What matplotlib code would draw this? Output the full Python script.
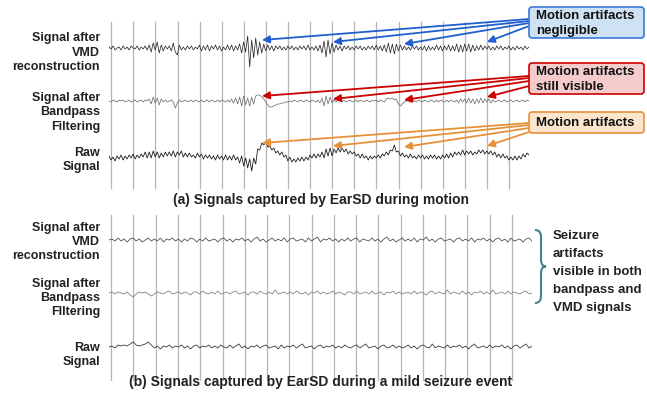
import matplotlib
matplotlib.use("Agg")  # no display
import matplotlib.pyplot as plt
import numpy as np
from matplotlib.patches import FancyBboxPatch, PathPatch
from matplotlib.path import Path

plt.rcParams['font.family'] = ['Liberation Sans', 'DejaVu Sans']

# ---- signal data (amplitude, arbitrary units) ----
# (a) motion recording, 210 samples per track
vmd_a = [
    1, -1, 2, -2, 0, 1, -2, 2, -1, 1,
    -2, 2, 0, -1, 2, -2, 1, -1, 2, -2,
    3, -4, 5, -2, 6, -5, 3, -3, 2, -1,
    2, -3, 5, -4, -7, 3, -2, 1, -2, 2,
    -1, 2, -2, 1, -1, 3, -3, 2, -2, 3,
    -3, 2, -1, 3, -2, 2, -3, 1, -2, 3,
    -2, 3, -3, 2, -2, 4, -5, 6, -4, 12,
    -19, 8, -10, 10, -7, 6, -5, 4, -3, 3,
    -2, 2, -3, 2, -1, 2, -2, 1, -2, 2,
    -1, 2, -2, 1, -2, 2, -1, 2, -2, 3,
    -2, 1, -2, 2, -3, 3, -5, 7, -9, 8,
    -6, 5, -4, 3, -2, 2, -3, 2, -1, 2,
    -2, 1, -2, 2, -1, 2, -2, 1, -2, 2,
    -1, 2, -2, 3, -2, 2, -3, 3, -4, 5,
    -5, 4, -6, 4, -3, 3, -2, 2, -2, 1,
    -2, 2, -1, 2, -2, 1, -2, 2, -3, 2,
    -2, 1, -2, 3, -2, 2, -3, 2, -2, 3,
    -3, 2, -3, 4, -4, 3, -4, 4, -3, 4,
    -4, 3, -3, 2, -2, 3, -2, 2, -1, 2,
    -2, 1, -2, 2, -1, 2, -2, 1, -1, 2,
    -2, 1, -2, 2, -1, 1, -2, 2, -1, 1,
]
bandpass_a = [
    0, -1, 1, 0, -1, 1, 0, 1, -1, 0,
    1, -1, 0, 1, -1, 0, 1, -1, 1, 0,
    2, -3, 4, -2, 3, -4, 2, -1, 1, -1,
    0, 1, -1, -7, -2, 1, -1, 0, 1, -1,
    0, 1, -1, 1, 0, -1, 1, -1, 0, 1,
    -1, 1, 0, -1, 1, -1, 1, 0, -1, 1,
    -1, 2, -2, 3, -3, 4, -5, 5, -4, 3,
    -5, 4, -3, 5, 6, 6, 4, 2, -1, -4,
    -6, -6, -5, -4, -3, -3, -2, -2, -1, -1,
    0, -1, 1, 0, -1, 1, 0, -1, 1, 0,
    -1, 1, 0, -1, 1, -2, 3, -5, 5, -3,
    4, -2, 1, -1, 1, 0, -1, 1, -1, 0,
    1, -1, 0, 1, -1, 1, 0, -1, 1, 0,
    -1, 1, 0, 1, -1, 1, 0, -1, 2, 3,
    2, 3, 1, 2, -3, -5, -3, -1, 0, 1,
    -1, 1, 0, -1, 1, 0, -1, 1, 0, -1,
    1, 0, -1, 1, -1, 1, 0, -1, 1, -1,
    1, 0, -1, 1, -2, 2, -1, 2, -2, 3,
    -2, 2, -3, 2, -2, 3, -2, 2, -1, 2,
    -2, 1, -1, 0, 1, -1, 0, 1, -1, 0,
    1, -1, 0, 1, -1, 0, 1, -1, 1, 0,
]
raw_a = [
    1, -3, 0, -4, 1, -2, 2, -3, 1, -2,
    2, -1, 3, -2, 2, -1, 3, 0, 5, -1,
    5, -1, 6, 0, 5, -1, 4, 0, 5, 1,
    5, 1, 6, 0, 5, 2, 6, 0, 4, 0,
    4, 0, 2, -1, 4, 0, 3, -2, 2, -1,
    2, -2, 1, -3, 2, -2, 1, -3, 2, -3,
    1, -3, 2, -3, 0, -6, 1, -9, -1, -11,
    -2, -14, -1, -7, 8, 7, 14, 12, 15, 10,
    11, 7, 9, 4, 6, 2, 5, 0, 2, -4,
    0, -5, -2, -5, -1, -4, 0, -4, 0, -3,
    2, -1, 3, -1, 3, 0, 5, -1, 8, 1,
    9, 1, 8, 4, 9, 5, 9, 5, 8, 3,
    6, 3, 5, 1, 3, -1, 3, -1, 1, -3,
    1, -2, 1, -1, 2, -1, 3, 1, 5, 2,
    7, 6, 12, 5, 6, 1, 4, 0, 2, -1,
    3, -1, 1, -2, 2, -1, 2, -2, 1, -2,
    2, -1, 2, -2, 1, -2, 2, -1, 3, -1,
    4, 0, 5, 2, 5, 2, 7, 2, 6, 3,
    6, 2, 5, 3, 7, 4, 7, 3, 6, 3,
    6, 2, 5, 0, 3, -1, 3, -1, 1, -3,
    0, -3, 1, -3, 1, -2, 3, 0, 4, 2,
]

# (b) mild seizure recording, 141 samples per track
vmd_b = [
    0, 1, -1, 2, -1, 1, -2, 1, 2, -1,
    1, -2, 0, 2, -1, 1, -1, 2, -2, 1,
    0, 2, -1, 1, -2, 1, -1, 2, 1, -2,
    1, -1, 2, -1, 0, 1, -2, 1, 2, -1,
    1, -2, 1, 0, 2, -1, 1, -2, 1, 3,
    -1, 1, -2, 0, 2, -1, 1, -1, 2, -2,
    1, 2, -1, 0, 1, -2, 2, -1, 1, 3,
    -2, 1, 0, 2, -1, 1, -2, 1, -1, 2,
    -1, 1, 2, -2, 1, 0, -1, 2, -1, 1,
    -2, 1, 3, -1, 1, -2, 0, 2, -1, 1,
    -1, 2, -2, 1, 0, 3, -1, 1, -2, 1,
    2, -1, 0, 1, -2, 1, 2, -1, 1, -1,
    2, -2, 1, 0, 2, -1, 1, -2, 1, 2,
    -1, 1, -2, 2, -1, 0, 1, -2, 1, 2,
    -1,
]
bandpass_b = [
    0, 1, -1, 1, 0, -1, 1, -2, -4, -1,
    1, 0, 1, -1, -3, -1, 1, 0, -1, 1,
    2, -1, 0, 1, -1, 1, 0, -2, 1, 1,
    -1, 2, 0, -1, 1, -1, 2, -1, 0, 1,
    -1, 1, 2, -1, 0, 1, -2, 1, 1, -1,
    2, 0, -1, 1, -1, 3, -1, 0, 1, -1,
    1, -1, 2, 0, -1, 1, -2, 1, 0, 2,
    -1, 1, -1, 0, 2, -1, 1, 0, -2, 1,
    1, -1, 2, -1, 0, 1, -1, 2, -1, 0,
    1, -2, 1, 0, 2, -1, 1, -1, 0, 1,
    -1, 2, -1, 1, 0, -2, 1, 2, -1, 1,
    0, -1, 3, -1, 1, 0, -1, 2, -1, 1,
    -2, 1, 0, 2, -1, 1, -1, 3, -1, 0,
    1, -1, 2, -1, 1, 0, -1, 1, 2, -1,
    0,
]
raw_b = [
    0, 1, -1, 2, 1, 2, 1, 3, 5, 2,
    1, 2, 3, 5, 2, -1, 1, -2, 1, 0,
    2, -1, 1, 0, 2, -1, 1, -2, 1, 2,
    -1, 1, 0, 2, -1, 1, -1, 2, 0, -1,
    2, -1, 1, 3, -1, 1, -2, 1, 0, 2,
    -1, 1, 2, -1, 0, 1, -2, 2, -1, 1,
    0, 2, -1, 1, 3, -1, 0, 1, -2, 1,
    2, -1, 1, 0, 2, -1, 1, -1, 2, 0,
    -1, 1, 2, -1, 1, 3, -1, 0, 1, -2,
    1, 2, -1, 0, 2, -1, 1, -1, 0, 2,
    -1, 1, -2, 1, 2, 0, -1, 3, -1, 1,
    0, -1, 2, -1, 1, 0, 2, -1, 1, -2,
    1, 3, -1, 0, 1, -1, 2, -1, 1, 0,
    2, -1, 1, -2, 1, 2, -1, 1, 3, -1,
    1,
]

track_labels_a = ["Signal after\nVMD\nreconstruction", "Signal after\nBandpass\nFiltering", "Raw\nSignal"]
track_labels_b = ["Signal after\nVMD\nreconstruction", "Signal after\nBandpass\nFIltering", "Raw\nSignal"]
caption_a = "(a) Signals captured by EarSD during motion"
caption_b = "(b) Signals captured by EarSD during a mild seizure event"
callouts = ["Motion artifacts\nnegligible", "Motion artifacts\nstill visible", "Motion artifacts"]
seizure_note = "Seizure\nartifacts\nvisible in both\nbandpass and\nVMD signals"

W, H = 647, 400
DURATION = 19.0
grid_t = np.arange(19) + 0.1

fig = plt.figure(figsize=(W / 100, H / 100), dpi=100)


def rect_px(x0, y0, x1, y1):
    return [x0 / W, 1 - y1 / H, (x1 - x0) / W, (y1 - y0) / H]


def draw_panel(rect, height, grid_lo, grid_hi, traces):
    ax = fig.add_axes(rect)
    ax.set_xlim(0, DURATION)
    ax.set_ylim(-height, 0)
    ax.axis('off')
    for t in grid_t:
        ax.axvline(t, ymin=grid_lo, ymax=grid_hi, color='#b5b5b5', lw=0.9, zorder=0)
    for values, offset, color, lw in traces:
        t = np.linspace(0, DURATION, len(values))
        ax.plot(t, offset + np.asarray(values, dtype=float), color=color, lw=lw, zorder=2)
    return ax


ax_a = draw_panel(rect_px(109, 20, 529, 190), 170, 2 / 170, 168 / 170,
                  [(vmd_a, -28, '#2b2b2b', 0.55), (bandpass_a, -81, '#707070', 0.55),
                   (raw_a, -137, '#1e1e1e', 0.6)])
ax_b = draw_panel(rect_px(109, 213, 532, 381), 168, 1 / 168, 166 / 168,
                  [(vmd_b, -27, '#505050', 0.6), (bandpass_b, -80, '#858585', 0.6),
                   (raw_b, -134, '#3c3c3c', 0.6)])

# overlay in pixel coordinates for labels / callouts
ov = fig.add_axes([0, 0, 1, 1], zorder=5)
ov.set_xlim(0, W)
ov.set_ylim(H, 0)
ov.axis('off')
ov.patch.set_alpha(0)

label_kw = dict(ha='right', va='center', multialignment='right', fontsize=9,
                fontweight='bold', color='#222222', linespacing=1.25)
for lab, yc in zip(track_labels_a, [52.5, 112.5, 160]):
    ov.text(100, yc, lab, **label_kw)
for lab, yc in zip(track_labels_b, [242, 298, 355]):
    ov.text(100, yc, lab, **label_kw)

ov.text(321, 200, caption_a, ha='center', va='center', fontsize=10, fontweight='bold', color='#222222')
ov.text(321, 382, caption_b, ha='center', va='center', fontsize=10, fontweight='bold', color='#222222')

# callout boxes with arrows
box_styles = [('#cfe2f3', '#3c78d8', '#1f5fcf', 7, 38, [19, 21, 23, 26]),
              ('#f4cccc', '#cc0000', '#cc0000', 63, 94, [76, 78, 81, 86]),
              ('#fce5cd', '#e69138', '#e69138', 112, 133, [123, 125, 128, 132])]
targets = [[(262, 40), (333, 42), (404, 44), (487, 42)],
           [(262, 96), (333, 99), (404, 100), (487, 97)],
           [(262, 143), (333, 146), (404, 147), (487, 146)]]
for text, (fc, ec, ac, y0, y1, starts), tgts in zip(callouts, box_styles, targets):
    ov.add_patch(FancyBboxPatch((529, y0), 115, y1 - y0, boxstyle='round,pad=0,rounding_size=3',
                                fc=fc, ec=ec, lw=1.2, zorder=3))
    ov.text(536, (y0 + y1) / 2 + 1, text, ha='left', va='center', fontsize=9.5,
            fontweight='bold', color='#111111', linespacing=1.3, zorder=4)
    for sy, (tx, ty) in zip(starts, tgts):
        ov.annotate('', xy=(tx, ty), xytext=(529, sy),
                    arrowprops=dict(arrowstyle='-|>', color=ac, lw=1.3, mutation_scale=11,
                                    shrinkA=0, shrinkB=0), zorder=2)

# curly brace for panel (b)
bx, top, bot, tip = 535, 230, 303, 546
mid = (top + bot) / 2
verts = [(bx, top), (bx + 6, top), (bx + 6, top + 7),
         (bx + 6, mid - 7), (bx + 6, mid), (tip, mid),
         (bx + 6, mid), (bx + 6, mid + 7), (bx + 6, bot - 7),
         (bx + 6, bot), (bx, bot)]
codes = [Path.MOVETO, Path.CURVE3, Path.CURVE3,
         Path.LINETO, Path.CURVE3, Path.CURVE3,
         Path.CURVE3, Path.CURVE3, Path.LINETO,
         Path.CURVE3, Path.CURVE3]
ov.add_patch(PathPatch(Path(verts, codes), fc='none', ec='#45818e', lw=1.5))
ov.text(553, 272, seizure_note, ha='left', va='center', fontsize=9.5, fontweight='bold',
        color='#222222', linespacing=1.65)

fig.savefig('out.png', dpi=100)
